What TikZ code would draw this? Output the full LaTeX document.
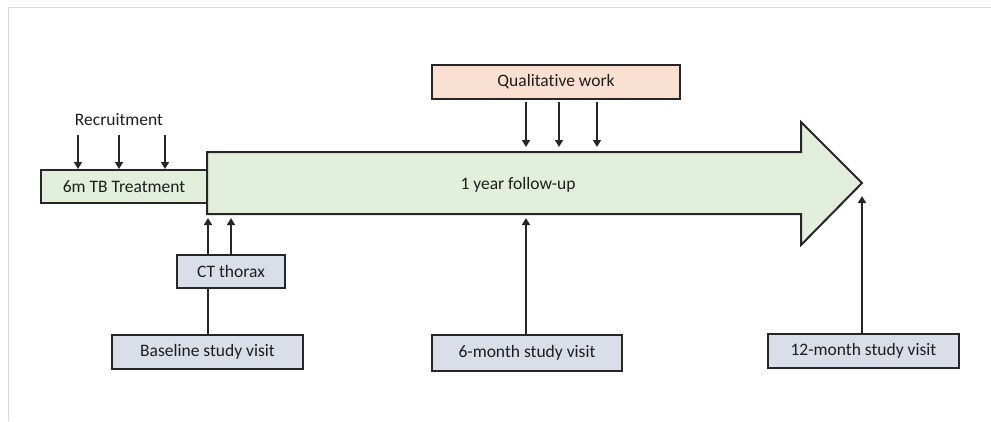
\documentclass[tikz,border=0pt]{standalone}
\usepackage{fontspec}
\setmainfont{Carlito}[Ligatures=NoCommon]
\usetikzlibrary{arrows.meta,calc}
\definecolor{gfill}{HTML}{E2EFDA}
\definecolor{pfill}{HTML}{FAE0D0}
\definecolor{bfill}{HTML}{D9DEE8}
\definecolor{edge}{HTML}{262626}
\definecolor{txt}{HTML}{1E1E1E}
\definecolor{frame}{HTML}{D9D9D9}
\tikzset{
  lbl/.style={text=txt, font=\fontsize{17.5}{20}\selectfont},
  boxstyle/.style={draw=edge, line width=2pt, minimum height=33pt, inner sep=0pt, lbl},
  arr/.style={draw=edge, line width=1.7pt, -{Triangle[width=8pt,length=7pt]}},
  plain/.style={draw=edge, line width=1.7pt},
}
\begin{document}
\begin{tikzpicture}[x=1pt,y=-1pt]
\useasboundingbox (0,0) rectangle (991,421);
% frame
\draw[frame, line width=1pt] (991,7) -- (8,7) -- (8,421);
% big arrow
\coordinate (bodytl) at (207,152);
\coordinate (bodybl) at (207,214);
\draw[edge, fill=gfill, line width=2pt, line join=miter]
  (bodytl) -- (801,152) -- (801,122) -- (862,183) -- (801,245) -- (801,214) -- (bodybl) -- cycle;
\coordinate (tip) at (862,183);
\node[lbl] (follow) at (518,185) {1 year follow-up};
% treatment box
\node[boxstyle, fill=gfill, minimum width=166pt] (treat) at (124,186.5) {6m TB Treatment};
% recruitment
\node[lbl] (recr) at (119,120) {Recruitment};
\coordinate (r1) at (78,135);
\coordinate (r2) at (119,135);
\coordinate (r3) at (165,135);
\foreach \c in {r1,r2,r3} \draw[arr] (\c) -- (\c |- treat.north);
% qualitative
\node[boxstyle, fill=pfill, minimum width=248pt, minimum height=34pt] (qual) at (556,82) {Qualitative work};
\foreach \x in {526,559,597} {
  \coordinate (q\x) at (\x,102);
  \draw[arr] (q\x) -- (\x,147);
}
% CT thorax
\node[boxstyle, fill=bfill, minimum width=108pt] (ct) at (231,271.5) {CT thorax};
\draw[arr] (ct.north -| 208,0) -- (208,218);
\draw[arr] (ct.north) -- (231,218);
% baseline
\node[boxstyle, fill=bfill, minimum width=191pt, minimum height=34pt] (base) at (207.5,352) {Baseline study visit};
\draw[plain] (ct.south -| 208,0) -- (base.north -| 208,0);
% 6 month
\node[boxstyle, fill=bfill, minimum width=190pt, minimum height=36pt] (six) at (527,352.5) {6-month study visit};
\draw[arr] (six.north -| 526,0) -- (526,218);
% 12 month
\node[boxstyle, fill=bfill, minimum width=191pt, minimum height=34pt] (twelve) at (863.5,351) {12-month study visit};
\draw[arr] (twelve.north -| tip) -- ($(tip)+(0,13)$);
\end{tikzpicture}
\end{document}
